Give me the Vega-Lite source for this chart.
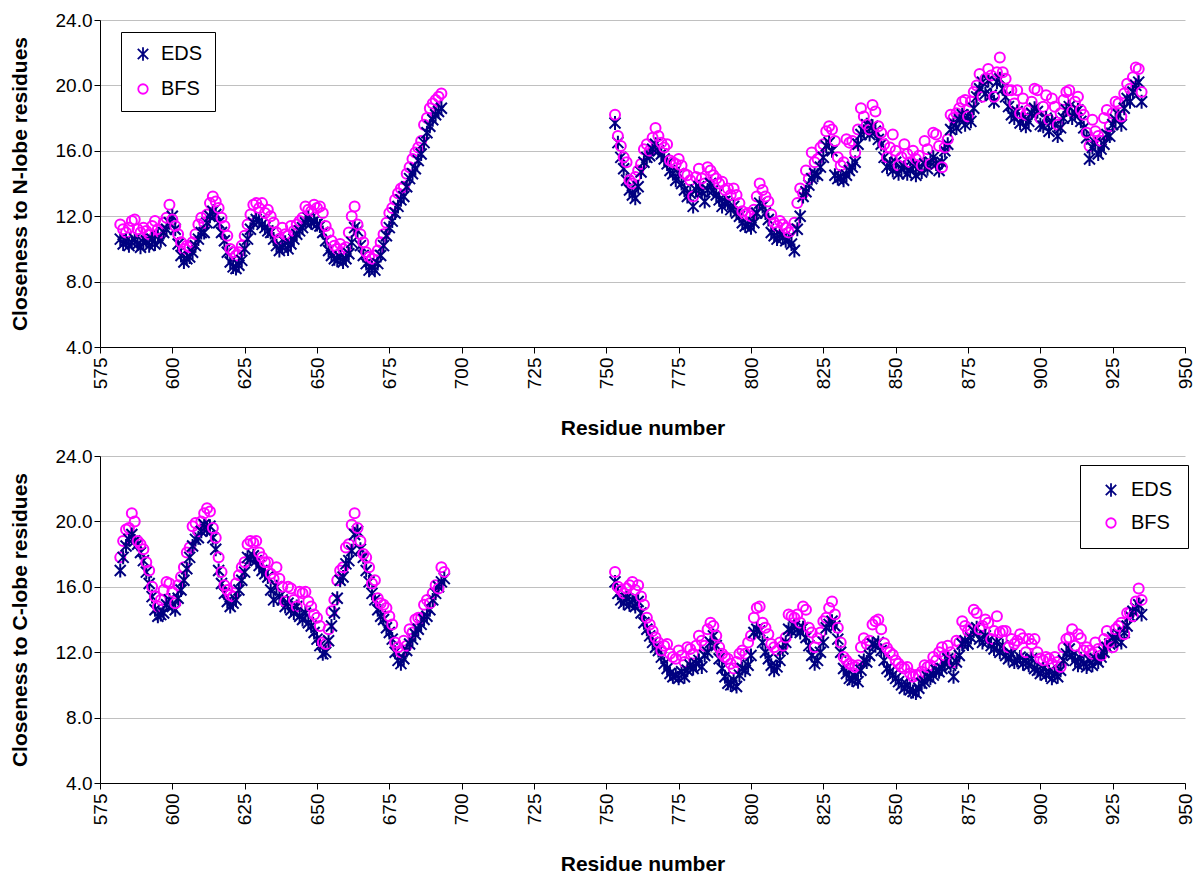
{
"$schema": "https://vega.github.io/schema/vega-lite/v6.json",
"background": "white",
"padding": {"left": 9, "top": 11, "right": 6, "bottom": 2},
"config": {
  "font": "Liberation Sans",
  "view": {"stroke": null},
  "axis": {"labelFont": "Liberation Sans", "labelFontSize": 19, "labelColor": "black", "titleFont": "Liberation Sans", "titleFontSize": 21, "titleFontWeight": "bold", "titleColor": "black", "domainColor": "black", "domainWidth": 1, "tickColor": "black", "tickSize": 6, "gridColor": "#c0c0c0", "gridWidth": 1}
},
"datasets": {
"n": [
{"r":582,"EDS":10.6,"BFS":11.5},{"r":583,"EDS":10.3,"BFS":11.2},{"r":584,"EDS":10.5,"BFS":11.0},{"r":585,"EDS":10.2,"BFS":11.3},{"r":586,"EDS":10.4,"BFS":11.7},{"r":587,"EDS":10.6,"BFS":11.8},{"r":588,"EDS":10.3,"BFS":11.2},{"r":589,"EDS":10.1,"BFS":11.0},{"r":590,"EDS":10.4,"BFS":11.3},{"r":591,"EDS":10.5,"BFS":11.1},{"r":592,"EDS":10.2,"BFS":10.9},{"r":593,"EDS":10.6,"BFS":11.4},{"r":594,"EDS":10.3,"BFS":11.7},{"r":595,"EDS":10.8,"BFS":11.2},{"r":596,"EDS":10.5,"BFS":11.0},{"r":597,"EDS":11.0,"BFS":11.6},{"r":598,"EDS":11.2,"BFS":11.9},{"r":599,"EDS":11.6,"BFS":12.7},{"r":600,"EDS":12.0,"BFS":11.8},
{"r":601,"EDS":11.2,"BFS":11.4},{"r":602,"EDS":10.3,"BFS":10.9},{"r":603,"EDS":9.6,"BFS":10.4},{"r":604,"EDS":9.2,"BFS":10.0},{"r":605,"EDS":9.4,"BFS":10.2},{"r":606,"EDS":9.5,"BFS":10.1},{"r":607,"EDS":9.8,"BFS":10.4},{"r":608,"EDS":10.2,"BFS":10.9},{"r":609,"EDS":10.6,"BFS":11.5},{"r":610,"EDS":11.0,"BFS":11.9},{"r":611,"EDS":11.0,"BFS":11.6},{"r":612,"EDS":11.6,"BFS":12.1},{"r":613,"EDS":12.0,"BFS":12.8},{"r":614,"EDS":12.3,"BFS":13.2},{"r":615,"EDS":12.1,"BFS":12.9},{"r":616,"EDS":11.6,"BFS":12.5},{"r":617,"EDS":11.0,"BFS":11.9},{"r":618,"EDS":10.5,"BFS":11.4},{"r":619,"EDS":9.8,"BFS":10.8},{"r":620,"EDS":9.2,"BFS":10.0},
{"r":621,"EDS":8.9,"BFS":9.8},{"r":622,"EDS":8.8,"BFS":9.6},{"r":623,"EDS":9.0,"BFS":9.8},{"r":624,"EDS":9.3,"BFS":10.2},{"r":625,"EDS":10.0,"BFS":10.8},{"r":626,"EDS":10.6,"BFS":11.5},{"r":627,"EDS":11.2,"BFS":12.1},{"r":628,"EDS":11.6,"BFS":12.7},{"r":629,"EDS":11.8,"BFS":12.8},{"r":630,"EDS":11.7,"BFS":12.5},{"r":631,"EDS":11.5,"BFS":12.8},{"r":632,"EDS":11.3,"BFS":12.2},{"r":633,"EDS":11.1,"BFS":12.4},{"r":634,"EDS":11.0,"BFS":12.0},{"r":635,"EDS":10.6,"BFS":11.6},{"r":636,"EDS":10.2,"BFS":11.0},{"r":637,"EDS":9.9,"BFS":10.6},{"r":638,"EDS":10.1,"BFS":11.3},{"r":639,"EDS":10.4,"BFS":10.9},{"r":640,"EDS":10.0,"BFS":10.8},
{"r":641,"EDS":10.3,"BFS":11.4},{"r":642,"EDS":10.6,"BFS":11.1},{"r":643,"EDS":10.9,"BFS":11.5},{"r":644,"EDS":11.1,"BFS":11.7},{"r":645,"EDS":11.3,"BFS":11.9},{"r":646,"EDS":11.6,"BFS":12.6},{"r":647,"EDS":11.9,"BFS":12.4},{"r":648,"EDS":11.6,"BFS":12.3},{"r":649,"EDS":11.7,"BFS":12.7},{"r":650,"EDS":11.5,"BFS":12.5},{"r":651,"EDS":11.4,"BFS":12.6},{"r":652,"EDS":11.0,"BFS":12.2},{"r":653,"EDS":10.5,"BFS":11.4},{"r":654,"EDS":9.9,"BFS":11.0},{"r":655,"EDS":9.6,"BFS":10.5},{"r":656,"EDS":9.4,"BFS":10.2},{"r":657,"EDS":9.3,"BFS":10.0},{"r":658,"EDS":9.5,"BFS":10.3},{"r":659,"EDS":9.2,"BFS":10.0},{"r":660,"EDS":9.4,"BFS":10.1},
{"r":661,"EDS":9.7,"BFS":11.0},{"r":662,"EDS":10.4,"BFS":12.0},{"r":663,"EDS":11.3,"BFS":12.6},{"r":664,"EDS":11.1,"BFS":11.5},{"r":665,"EDS":10.2,"BFS":10.9},{"r":666,"EDS":9.6,"BFS":10.4},{"r":667,"EDS":9.1,"BFS":9.8},{"r":668,"EDS":8.7,"BFS":9.5},{"r":669,"EDS":8.9,"BFS":9.4},{"r":670,"EDS":8.7,"BFS":9.6},{"r":671,"EDS":9.1,"BFS":9.9},{"r":672,"EDS":9.6,"BFS":10.4},{"r":673,"EDS":10.2,"BFS":10.9},{"r":674,"EDS":10.8,"BFS":11.6},{"r":675,"EDS":11.3,"BFS":12.2},{"r":676,"EDS":11.7,"BFS":12.5},{"r":677,"EDS":12.2,"BFS":13.0},{"r":678,"EDS":12.6,"BFS":13.4},{"r":679,"EDS":13.0,"BFS":13.7},{"r":680,"EDS":13.2,"BFS":13.8},
{"r":681,"EDS":13.8,"BFS":14.6},{"r":682,"EDS":14.3,"BFS":15.0},{"r":683,"EDS":14.6,"BFS":15.5},{"r":684,"EDS":14.9,"BFS":15.9},{"r":685,"EDS":15.4,"BFS":16.2},{"r":686,"EDS":15.8,"BFS":16.6},{"r":687,"EDS":16.5,"BFS":17.6},{"r":688,"EDS":17.1,"BFS":18.0},{"r":689,"EDS":17.5,"BFS":18.6},{"r":690,"EDS":17.9,"BFS":18.9},{"r":691,"EDS":18.2,"BFS":19.1},{"r":692,"EDS":18.4,"BFS":19.3},{"r":693,"EDS":18.6,"BFS":19.5},
{"r":753,"EDS":17.7,"BFS":18.2},{"r":754,"EDS":16.5,"BFS":16.9},{"r":755,"EDS":15.6,"BFS":16.3},{"r":756,"EDS":14.9,"BFS":15.6},{"r":757,"EDS":14.2,"BFS":15.3},{"r":758,"EDS":13.6,"BFS":14.2},{"r":759,"EDS":13.3,"BFS":14.0},{"r":760,"EDS":13.1,"BFS":14.4},
{"r":761,"EDS":13.8,"BFS":14.8},{"r":762,"EDS":14.7,"BFS":15.2},{"r":763,"EDS":15.3,"BFS":16.1},{"r":764,"EDS":15.6,"BFS":16.4},{"r":765,"EDS":15.7,"BFS":16.0},{"r":766,"EDS":16.1,"BFS":16.8},{"r":767,"EDS":16.4,"BFS":17.4},{"r":768,"EDS":16.0,"BFS":16.9},{"r":769,"EDS":15.8,"BFS":16.5},{"r":770,"EDS":15.5,"BFS":16.2},{"r":771,"EDS":15.2,"BFS":16.4},{"r":772,"EDS":14.8,"BFS":15.4},{"r":773,"EDS":14.6,"BFS":15.3},{"r":774,"EDS":14.2,"BFS":15.2},{"r":775,"EDS":14.6,"BFS":15.5},{"r":776,"EDS":14.0,"BFS":15.1},{"r":777,"EDS":13.6,"BFS":14.6},{"r":778,"EDS":13.2,"BFS":14.5},{"r":779,"EDS":13.4,"BFS":14.2},{"r":780,"EDS":12.6,"BFS":13.2},
{"r":781,"EDS":13.6,"BFS":14.4},{"r":782,"EDS":13.8,"BFS":14.9},{"r":783,"EDS":13.5,"BFS":14.3},{"r":784,"EDS":12.9,"BFS":14.0},{"r":785,"EDS":13.6,"BFS":15.0},{"r":786,"EDS":14.0,"BFS":14.8},{"r":787,"EDS":13.6,"BFS":14.5},{"r":788,"EDS":13.3,"BFS":14.3},{"r":789,"EDS":13.0,"BFS":14.0},{"r":790,"EDS":12.6,"BFS":14.1},{"r":791,"EDS":12.9,"BFS":13.6},{"r":792,"EDS":12.8,"BFS":13.7},{"r":793,"EDS":12.4,"BFS":13.3},{"r":794,"EDS":12.6,"BFS":13.7},{"r":795,"EDS":12.2,"BFS":13.3},{"r":796,"EDS":12.0,"BFS":12.8},{"r":797,"EDS":11.6,"BFS":12.3},{"r":798,"EDS":11.4,"BFS":12.1},{"r":799,"EDS":11.5,"BFS":12.2},{"r":800,"EDS":11.3,"BFS":12.0},
{"r":801,"EDS":11.6,"BFS":12.4},{"r":802,"EDS":12.2,"BFS":13.2},{"r":803,"EDS":12.8,"BFS":14.0},{"r":804,"EDS":12.6,"BFS":13.6},{"r":805,"EDS":12.2,"BFS":13.2},{"r":806,"EDS":11.8,"BFS":12.9},{"r":807,"EDS":11.0,"BFS":12.1},{"r":808,"EDS":10.8,"BFS":11.6},{"r":809,"EDS":10.6,"BFS":11.4},{"r":810,"EDS":10.9,"BFS":11.7},
{"r":811,"EDS":10.7,"BFS":11.5},{"r":812,"EDS":10.5,"BFS":11.3},{"r":813,"EDS":10.6,"BFS":11.0},{"r":814,"EDS":10.3,"BFS":11.2},{"r":815,"EDS":9.9,"BFS":11.6},{"r":816,"EDS":11.2,"BFS":12.8},{"r":817,"EDS":12.0,"BFS":13.7},{"r":818,"EDS":13.2,"BFS":13.4},{"r":819,"EDS":13.5,"BFS":14.8},{"r":820,"EDS":13.9,"BFS":14.3},
{"r":821,"EDS":14.3,"BFS":15.9},{"r":822,"EDS":14.6,"BFS":15.3},{"r":823,"EDS":14.5,"BFS":15.5},{"r":824,"EDS":15.0,"BFS":16.2},{"r":825,"EDS":15.6,"BFS":16.4},{"r":826,"EDS":16.3,"BFS":17.2},{"r":827,"EDS":16.5,"BFS":17.5},{"r":828,"EDS":16.0,"BFS":17.3},{"r":829,"EDS":14.5,"BFS":16.6},{"r":830,"EDS":14.3,"BFS":15.6},{"r":831,"EDS":14.4,"BFS":15.1},{"r":832,"EDS":14.2,"BFS":15.3},{"r":833,"EDS":14.5,"BFS":16.7},{"r":834,"EDS":14.8,"BFS":16.5},{"r":835,"EDS":15.0,"BFS":16.6},{"r":836,"EDS":15.3,"BFS":15.9},{"r":837,"EDS":16.4,"BFS":17.3},{"r":838,"EDS":17.0,"BFS":18.6},{"r":839,"EDS":17.2,"BFS":18.1},{"r":840,"EDS":17.6,"BFS":17.6},
{"r":841,"EDS":17.0,"BFS":17.3},{"r":842,"EDS":17.5,"BFS":18.8},{"r":843,"EDS":17.2,"BFS":18.4},{"r":844,"EDS":16.7,"BFS":17.5},{"r":845,"EDS":16.4,"BFS":17.1},{"r":846,"EDS":15.6,"BFS":16.4},{"r":847,"EDS":15.0,"BFS":15.6},{"r":848,"EDS":15.2,"BFS":16.2},{"r":849,"EDS":14.8,"BFS":17.0},{"r":850,"EDS":15.3,"BFS":16.0},{"r":851,"EDS":14.6,"BFS":15.1},{"r":852,"EDS":14.9,"BFS":15.6},{"r":853,"EDS":15.0,"BFS":16.4},{"r":854,"EDS":14.6,"BFS":15.8},{"r":855,"EDS":14.8,"BFS":15.3},{"r":856,"EDS":15.1,"BFS":16.0},{"r":857,"EDS":14.5,"BFS":15.5},{"r":858,"EDS":15.0,"BFS":15.7},{"r":859,"EDS":14.7,"BFS":15.1},{"r":860,"EDS":15.2,"BFS":16.6},
{"r":861,"EDS":14.9,"BFS":16.1},{"r":862,"EDS":15.3,"BFS":15.2},{"r":863,"EDS":15.6,"BFS":17.1},{"r":864,"EDS":15.2,"BFS":17.0},{"r":865,"EDS":14.8,"BFS":16.3},{"r":866,"EDS":15.3,"BFS":15.0},{"r":867,"EDS":16.0,"BFS":16.2},{"r":868,"EDS":16.4,"BFS":16.7},{"r":869,"EDS":17.3,"BFS":18.2},{"r":870,"EDS":17.7,"BFS":18.0},{"r":871,"EDS":17.4,"BFS":18.3},{"r":872,"EDS":17.9,"BFS":18.6},{"r":873,"EDS":18.2,"BFS":19.0},{"r":874,"EDS":17.6,"BFS":19.1},{"r":875,"EDS":18.1,"BFS":18.1},{"r":876,"EDS":17.8,"BFS":19.0},{"r":877,"EDS":18.6,"BFS":19.6},{"r":878,"EDS":19.3,"BFS":20.0},{"r":879,"EDS":19.8,"BFS":20.7},{"r":880,"EDS":20.2,"BFS":19.3},
{"r":881,"EDS":19.5,"BFS":20.4},{"r":882,"EDS":20.3,"BFS":21.0},{"r":883,"EDS":19.4,"BFS":20.6},{"r":884,"EDS":19.0,"BFS":19.3},{"r":885,"EDS":20.2,"BFS":20.8},{"r":886,"EDS":20.4,"BFS":21.7},{"r":887,"EDS":19.8,"BFS":20.8},{"r":888,"EDS":19.3,"BFS":20.4},{"r":889,"EDS":18.7,"BFS":19.7},{"r":890,"EDS":18.2,"BFS":19.7},{"r":891,"EDS":18.0,"BFS":18.9},{"r":892,"EDS":18.4,"BFS":19.7},{"r":893,"EDS":17.7,"BFS":18.3},{"r":894,"EDS":18.0,"BFS":19.2},{"r":895,"EDS":17.5,"BFS":18.2},{"r":896,"EDS":17.8,"BFS":18.5},{"r":897,"EDS":18.3,"BFS":19.0},{"r":898,"EDS":18.6,"BFS":19.8},{"r":899,"EDS":18.4,"BFS":19.7},{"r":900,"EDS":17.6,"BFS":18.0},
{"r":901,"EDS":17.5,"BFS":18.7},{"r":902,"EDS":18.0,"BFS":19.4},{"r":903,"EDS":17.2,"BFS":17.9},{"r":904,"EDS":17.8,"BFS":19.2},{"r":905,"EDS":17.6,"BFS":18.7},{"r":906,"EDS":16.9,"BFS":17.6},{"r":907,"EDS":17.4,"BFS":18.3},{"r":908,"EDS":18.0,"BFS":19.1},{"r":909,"EDS":18.5,"BFS":19.6},{"r":910,"EDS":18.7,"BFS":19.7},{"r":911,"EDS":18.0,"BFS":18.4},{"r":912,"EDS":18.3,"BFS":19.0},{"r":913,"EDS":18.5,"BFS":19.3},{"r":914,"EDS":17.8,"BFS":18.5},{"r":915,"EDS":17.4,"BFS":18.2},{"r":916,"EDS":16.8,"BFS":17.1},{"r":917,"EDS":15.5,"BFS":16.3},{"r":918,"EDS":16.2,"BFS":17.9},{"r":919,"EDS":16.5,"BFS":17.2},{"r":920,"EDS":15.8,"BFS":16.9},
{"r":921,"EDS":16.1,"BFS":16.6},{"r":922,"EDS":16.4,"BFS":18.0},{"r":923,"EDS":17.0,"BFS":18.5},{"r":924,"EDS":16.9,"BFS":17.5},{"r":925,"EDS":17.6,"BFS":18.3},{"r":926,"EDS":17.9,"BFS":19.0},{"r":927,"EDS":18.2,"BFS":18.9},{"r":928,"EDS":17.6,"BFS":18.1},{"r":929,"EDS":18.6,"BFS":19.5},{"r":930,"EDS":19.2,"BFS":20.1},{"r":931,"EDS":19.0,"BFS":19.8},{"r":932,"EDS":19.6,"BFS":20.5},{"r":933,"EDS":20.0,"BFS":21.1},{"r":934,"EDS":20.2,"BFS":21.0},{"r":935,"EDS":19.0,"BFS":19.6}
],
"c": [
{"r":582,"EDS":17.0,"BFS":17.8},{"r":583,"EDS":17.8,"BFS":18.8},{"r":584,"EDS":18.5,"BFS":19.5},{"r":585,"EDS":18.9,"BFS":19.6},{"r":586,"EDS":19.2,"BFS":20.5},{"r":587,"EDS":18.8,"BFS":20.0},{"r":588,"EDS":18.6,"BFS":18.8},{"r":589,"EDS":18.1,"BFS":18.6},{"r":590,"EDS":17.6,"BFS":18.3},{"r":591,"EDS":16.9,"BFS":17.5},{"r":592,"EDS":16.2,"BFS":17.0},{"r":593,"EDS":15.4,"BFS":16.0},{"r":594,"EDS":14.6,"BFS":15.4},{"r":595,"EDS":14.2,"BFS":14.8},{"r":596,"EDS":14.3,"BFS":15.2},{"r":597,"EDS":14.4,"BFS":15.8},{"r":598,"EDS":14.9,"BFS":16.3},{"r":599,"EDS":15.2,"BFS":16.2},{"r":600,"EDS":14.8,"BFS":15.7},
{"r":601,"EDS":14.6,"BFS":15.0},{"r":602,"EDS":15.3,"BFS":16.1},{"r":603,"EDS":15.8,"BFS":16.6},{"r":604,"EDS":16.4,"BFS":17.2},{"r":605,"EDS":17.1,"BFS":18.1},{"r":606,"EDS":17.8,"BFS":18.4},{"r":607,"EDS":18.5,"BFS":19.7},{"r":608,"EDS":18.9,"BFS":19.9},{"r":609,"EDS":19.0,"BFS":19.4},{"r":610,"EDS":19.4,"BFS":20.0},{"r":611,"EDS":19.8,"BFS":20.5},{"r":612,"EDS":19.5,"BFS":20.8},{"r":613,"EDS":19.7,"BFS":20.6},{"r":614,"EDS":19.0,"BFS":19.6},{"r":615,"EDS":18.3,"BFS":19.0},{"r":616,"EDS":17.0,"BFS":17.8},{"r":617,"EDS":16.2,"BFS":16.9},{"r":618,"EDS":15.6,"BFS":16.1},{"r":619,"EDS":15.1,"BFS":15.8},{"r":620,"EDS":14.8,"BFS":15.5},
{"r":621,"EDS":15.0,"BFS":15.4},{"r":622,"EDS":15.2,"BFS":16.2},{"r":623,"EDS":15.8,"BFS":16.7},{"r":624,"EDS":16.4,"BFS":17.2},{"r":625,"EDS":16.9,"BFS":17.5},{"r":626,"EDS":17.8,"BFS":18.6},{"r":627,"EDS":17.7,"BFS":18.8},{"r":628,"EDS":17.9,"BFS":18.7},{"r":629,"EDS":17.6,"BFS":18.8},{"r":630,"EDS":17.3,"BFS":18.1},{"r":631,"EDS":17.0,"BFS":17.8},{"r":632,"EDS":16.8,"BFS":17.5},{"r":633,"EDS":16.6,"BFS":17.5},{"r":634,"EDS":15.8,"BFS":16.8},{"r":635,"EDS":15.2,"BFS":16.5},{"r":636,"EDS":16.0,"BFS":17.2},{"r":637,"EDS":15.4,"BFS":16.5},{"r":638,"EDS":15.2,"BFS":16.0},{"r":639,"EDS":14.8,"BFS":15.1},{"r":640,"EDS":15.0,"BFS":16.0},
{"r":641,"EDS":14.6,"BFS":15.9},{"r":642,"EDS":14.4,"BFS":15.2},{"r":643,"EDS":14.8,"BFS":14.8},{"r":644,"EDS":14.2,"BFS":15.7},{"r":645,"EDS":14.0,"BFS":15.6},{"r":646,"EDS":14.4,"BFS":15.7},{"r":647,"EDS":13.8,"BFS":15.1},{"r":648,"EDS":13.6,"BFS":14.8},{"r":649,"EDS":13.2,"BFS":14.3},{"r":650,"EDS":12.8,"BFS":14.1},{"r":651,"EDS":12.4,"BFS":13.6},{"r":652,"EDS":11.9,"BFS":12.6},{"r":653,"EDS":12.0,"BFS":12.5},{"r":654,"EDS":12.7,"BFS":13.4},{"r":655,"EDS":13.6,"BFS":14.5},{"r":656,"EDS":14.4,"BFS":15.2},{"r":657,"EDS":15.3,"BFS":16.4},{"r":658,"EDS":16.4,"BFS":17.0},{"r":659,"EDS":16.6,"BFS":17.2},{"r":660,"EDS":17.4,"BFS":18.4},
{"r":661,"EDS":17.6,"BFS":18.6},{"r":662,"EDS":18.2,"BFS":19.8},{"r":663,"EDS":19.2,"BFS":20.5},{"r":664,"EDS":19.4,"BFS":19.6},{"r":665,"EDS":18.3,"BFS":18.8},{"r":666,"EDS":17.8,"BFS":18.0},{"r":667,"EDS":17.0,"BFS":17.8},{"r":668,"EDS":16.3,"BFS":17.2},{"r":669,"EDS":15.6,"BFS":16.2},{"r":670,"EDS":15.2,"BFS":16.4},{"r":671,"EDS":14.6,"BFS":15.3},{"r":672,"EDS":14.2,"BFS":15.0},{"r":673,"EDS":14.0,"BFS":14.9},{"r":674,"EDS":13.5,"BFS":14.7},{"r":675,"EDS":13.2,"BFS":14.2},{"r":676,"EDS":12.8,"BFS":13.7},{"r":677,"EDS":12.0,"BFS":12.6},{"r":678,"EDS":11.5,"BFS":12.3},{"r":679,"EDS":11.3,"BFS":12.0},{"r":680,"EDS":11.6,"BFS":12.7},
{"r":681,"EDS":12.1,"BFS":12.4},{"r":682,"EDS":12.5,"BFS":13.4},{"r":683,"EDS":12.8,"BFS":13.2},{"r":684,"EDS":13.1,"BFS":14.0},{"r":685,"EDS":13.4,"BFS":14.1},{"r":686,"EDS":13.7,"BFS":14.1},{"r":687,"EDS":14.0,"BFS":14.9},{"r":688,"EDS":14.2,"BFS":15.2},{"r":689,"EDS":14.6,"BFS":15.0},{"r":690,"EDS":15.2,"BFS":15.6},{"r":691,"EDS":15.6,"BFS":16.1},{"r":692,"EDS":16.0,"BFS":15.9},{"r":693,"EDS":16.3,"BFS":17.2},{"r":694,"EDS":16.5,"BFS":16.9},
{"r":753,"EDS":16.3,"BFS":16.9},{"r":754,"EDS":15.6,"BFS":16.0},{"r":755,"EDS":15.2,"BFS":15.8},{"r":756,"EDS":15.0,"BFS":15.6},{"r":757,"EDS":15.3,"BFS":15.9},{"r":758,"EDS":14.9,"BFS":16.1},{"r":759,"EDS":15.2,"BFS":16.3},{"r":760,"EDS":14.8,"BFS":15.8},
{"r":761,"EDS":15.1,"BFS":16.1},{"r":762,"EDS":14.4,"BFS":15.4},{"r":763,"EDS":13.8,"BFS":14.9},{"r":764,"EDS":13.4,"BFS":14.1},{"r":765,"EDS":13.0,"BFS":13.7},{"r":766,"EDS":12.6,"BFS":13.3},{"r":767,"EDS":12.3,"BFS":12.9},{"r":768,"EDS":12.1,"BFS":12.6},{"r":769,"EDS":11.7,"BFS":12.1},{"r":770,"EDS":11.3,"BFS":12.4},{"r":771,"EDS":11.0,"BFS":12.5},{"r":772,"EDS":10.7,"BFS":11.9},{"r":773,"EDS":10.5,"BFS":11.7},{"r":774,"EDS":10.6,"BFS":11.6},{"r":775,"EDS":10.4,"BFS":12.1},{"r":776,"EDS":10.8,"BFS":11.8},{"r":777,"EDS":10.5,"BFS":11.4},{"r":778,"EDS":10.9,"BFS":12.3},{"r":779,"EDS":11.2,"BFS":12.2},{"r":780,"EDS":11.0,"BFS":11.9},
{"r":781,"EDS":11.3,"BFS":12.4},{"r":782,"EDS":11.5,"BFS":13.0},{"r":783,"EDS":11.1,"BFS":12.7},{"r":784,"EDS":11.8,"BFS":12.4},{"r":785,"EDS":12.0,"BFS":13.4},{"r":786,"EDS":12.6,"BFS":13.8},{"r":787,"EDS":13.0,"BFS":13.6},{"r":788,"EDS":12.4,"BFS":13.0},{"r":789,"EDS":11.6,"BFS":12.3},{"r":790,"EDS":11.0,"BFS":11.9},{"r":791,"EDS":10.5,"BFS":11.7},{"r":792,"EDS":10.1,"BFS":11.6},{"r":793,"EDS":10.0,"BFS":11.3},{"r":794,"EDS":10.3,"BFS":11.0},{"r":795,"EDS":9.9,"BFS":11.4},{"r":796,"EDS":10.6,"BFS":11.9},{"r":797,"EDS":11.0,"BFS":12.1},{"r":798,"EDS":10.9,"BFS":11.9},{"r":799,"EDS":11.2,"BFS":12.6},{"r":800,"EDS":11.8,"BFS":13.0},
{"r":801,"EDS":13.2,"BFS":14.1},{"r":802,"EDS":13.4,"BFS":14.7},{"r":803,"EDS":13.3,"BFS":14.8},{"r":804,"EDS":12.6,"BFS":13.8},{"r":805,"EDS":12.0,"BFS":13.5},{"r":806,"EDS":11.6,"BFS":13.1},{"r":807,"EDS":11.2,"BFS":12.5},{"r":808,"EDS":10.9,"BFS":12.3},{"r":809,"EDS":11.1,"BFS":12.1},{"r":810,"EDS":11.5,"BFS":12.6},{"r":811,"EDS":12.2,"BFS":12.4},{"r":812,"EDS":12.6,"BFS":12.9},{"r":813,"EDS":13.4,"BFS":14.3},{"r":814,"EDS":13.3,"BFS":14.2},{"r":815,"EDS":13.6,"BFS":14.1},{"r":816,"EDS":13.4,"BFS":14.3},{"r":817,"EDS":13.2,"BFS":13.8},{"r":818,"EDS":13.5,"BFS":14.8},{"r":819,"EDS":12.9,"BFS":14.6},{"r":820,"EDS":12.4,"BFS":13.5},
{"r":821,"EDS":11.8,"BFS":13.2},{"r":822,"EDS":11.3,"BFS":12.3},{"r":823,"EDS":11.5,"BFS":12.85},{"r":824,"EDS":12.0,"BFS":13.2},{"r":825,"EDS":12.6,"BFS":13.9},{"r":826,"EDS":13.5,"BFS":14.1},{"r":827,"EDS":13.7,"BFS":14.7},{"r":828,"EDS":13.9,"BFS":15.1},{"r":829,"EDS":13.6,"BFS":14.3},{"r":830,"EDS":12.8,"BFS":13.5},{"r":831,"EDS":12.0,"BFS":12.6},{"r":832,"EDS":11.0,"BFS":11.7},{"r":833,"EDS":10.7,"BFS":11.5},{"r":834,"EDS":10.4,"BFS":11.3},{"r":835,"EDS":10.3,"BFS":11.2},{"r":836,"EDS":10.5,"BFS":11.1},{"r":837,"EDS":10.2,"BFS":11.2},{"r":838,"EDS":10.9,"BFS":12.3},{"r":839,"EDS":11.5,"BFS":12.85},{"r":840,"EDS":11.4,"BFS":12.5},
{"r":841,"EDS":11.8,"BFS":12.7},{"r":842,"EDS":12.5,"BFS":13.7},{"r":843,"EDS":12.4,"BFS":13.9},{"r":844,"EDS":12.6,"BFS":14.0},{"r":845,"EDS":12.1,"BFS":13.4},{"r":846,"EDS":11.5,"BFS":12.55},{"r":847,"EDS":11.0,"BFS":12.25},{"r":848,"EDS":10.8,"BFS":12.0},{"r":849,"EDS":10.6,"BFS":11.85},{"r":850,"EDS":10.4,"BFS":11.5},{"r":851,"EDS":10.2,"BFS":11.3},{"r":852,"EDS":10.0,"BFS":11.1},{"r":853,"EDS":9.8,"BFS":11.0},{"r":854,"EDS":10.0,"BFS":11.1},{"r":855,"EDS":9.7,"BFS":10.7},{"r":856,"EDS":9.6,"BFS":10.5},{"r":857,"EDS":9.5,"BFS":10.6},{"r":858,"EDS":9.8,"BFS":10.6},{"r":859,"EDS":10.1,"BFS":10.8},{"r":860,"EDS":10.2,"BFS":11.2},
{"r":861,"EDS":10.5,"BFS":11.1},{"r":862,"EDS":10.4,"BFS":11.2},{"r":863,"EDS":10.6,"BFS":11.7},{"r":864,"EDS":10.9,"BFS":11.5},{"r":865,"EDS":10.8,"BFS":12.0},{"r":866,"EDS":11.0,"BFS":12.3},{"r":867,"EDS":11.3,"BFS":11.8},{"r":868,"EDS":11.6,"BFS":12.4},{"r":869,"EDS":11.2,"BFS":12.0},{"r":870,"EDS":10.5,"BFS":11.4},{"r":871,"EDS":11.4,"BFS":12.7},{"r":872,"EDS":11.8,"BFS":12.6},{"r":873,"EDS":12.5,"BFS":13.9},{"r":874,"EDS":12.7,"BFS":13.6},{"r":875,"EDS":12.5,"BFS":13.3},{"r":876,"EDS":12.9,"BFS":13.4},{"r":877,"EDS":13.3,"BFS":14.6},{"r":878,"EDS":13.5,"BFS":14.4},{"r":879,"EDS":12.8,"BFS":13.4},{"r":880,"EDS":12.6,"BFS":13.6},
{"r":881,"EDS":13.0,"BFS":14.0},{"r":882,"EDS":12.7,"BFS":13.8},{"r":883,"EDS":12.4,"BFS":12.8},{"r":884,"EDS":12.2,"BFS":13.3},{"r":885,"EDS":12.6,"BFS":14.2},{"r":886,"EDS":12.0,"BFS":13.2},{"r":887,"EDS":12.4,"BFS":13.3},{"r":888,"EDS":11.8,"BFS":13.3},{"r":889,"EDS":11.6,"BFS":12.3},{"r":890,"EDS":11.9,"BFS":12.8},{"r":891,"EDS":11.4,"BFS":12.5},{"r":892,"EDS":11.5,"BFS":12.7},{"r":893,"EDS":11.7,"BFS":13.1},{"r":894,"EDS":11.3,"BFS":12.85},{"r":895,"EDS":11.5,"BFS":12.0},{"r":896,"EDS":11.2,"BFS":12.8},{"r":897,"EDS":11.6,"BFS":12.5},{"r":898,"EDS":11.0,"BFS":12.8},{"r":899,"EDS":10.9,"BFS":12.0},{"r":900,"EDS":10.7,"BFS":11.6},
{"r":901,"EDS":11.0,"BFS":11.5},{"r":902,"EDS":10.6,"BFS":11.7},{"r":903,"EDS":10.8,"BFS":11.6},{"r":904,"EDS":10.4,"BFS":11.3},{"r":905,"EDS":10.7,"BFS":11.7},{"r":906,"EDS":10.5,"BFS":11.4},{"r":907,"EDS":10.9,"BFS":11.1},{"r":908,"EDS":11.5,"BFS":12.3},{"r":909,"EDS":11.9,"BFS":12.8},{"r":910,"EDS":12.2,"BFS":12.9},{"r":911,"EDS":11.8,"BFS":13.4},{"r":912,"EDS":11.5,"BFS":12.4},{"r":913,"EDS":11.2,"BFS":13.1},{"r":914,"EDS":11.6,"BFS":12.85},{"r":915,"EDS":11.3,"BFS":12.1},{"r":916,"EDS":11.1,"BFS":12.3},{"r":917,"EDS":11.5,"BFS":12.1},{"r":918,"EDS":11.2,"BFS":11.9},{"r":919,"EDS":11.6,"BFS":12.6},{"r":920,"EDS":11.4,"BFS":12.2},
{"r":921,"EDS":11.7,"BFS":11.8},{"r":922,"EDS":12.0,"BFS":12.8},{"r":923,"EDS":12.3,"BFS":13.3},{"r":924,"EDS":12.5,"BFS":12.6},{"r":925,"EDS":12.9,"BFS":12.3},{"r":926,"EDS":12.7,"BFS":13.4},{"r":927,"EDS":13.1,"BFS":13.6},{"r":928,"EDS":12.6,"BFS":13.8},{"r":929,"EDS":13.2,"BFS":13.1},{"r":930,"EDS":13.6,"BFS":14.4},{"r":931,"EDS":14.2,"BFS":14.4},{"r":932,"EDS":14.5,"BFS":14.2},{"r":933,"EDS":14.7,"BFS":15.1},{"r":934,"EDS":14.9,"BFS":15.9},{"r":935,"EDS":14.3,"BFS":15.2}
]
},
"spacing": 8,
"resolve": {"legend": {"color": "independent", "shape": "independent"}, "scale": {"color": "independent", "shape": "independent"}},
"vconcat": [
{
  "width": 1085, "height": 327,
  "data": {"name": "n"},
  "transform": [{"fold": ["EDS", "BFS"], "as": ["series", "value"]}],
  "mark": {"type": "point", "filled": false, "strokeWidth": 2, "size": 100, "opacity": 1},
  "encoding": {
    "x": {"field": "r", "type": "quantitative", "scale": {"domain": [575, 950], "nice": false, "zero": false},
      "axis": {"values": [575,600,625,650,675,700,725,750,775,800,825,850,875,900,925,950], "labelAngle": -90, "grid": false, "title": "Residue number", "labelPadding": 4, "titlePadding": 29}},
    "y": {"field": "value", "type": "quantitative", "scale": {"domain": [4, 24], "nice": false, "zero": false},
      "axis": {"values": [4,8,12,16,20,24], "format": ".1f", "grid": true, "title": "Closeness to N-lobe residues", "titlePadding": 25}},
    "color": {"field": "series", "type": "nominal", "scale": {"domain": ["EDS", "BFS"], "range": ["#000080", "#FF00FF"]},
      "legend": {"title": null, "orient": "none", "legendX": 21, "legendY": 12, "fillColor": "white", "strokeColor": "black", "padding": 12, "labelFontSize": 20, "labelFont": "Liberation Sans", "labelColor": "black", "symbolSize": 90, "symbolStrokeWidth": 1.8, "rowPadding": 14, "labelOffset": 8}},
    "shape": {"field": "series", "type": "nominal", "scale": {"domain": ["EDS", "BFS"], "range": ["M-1.1,-1.1L1.1,1.1M-1.1,1.1L1.1,-1.1M0,-1.4L0,1.4", "circle"]},
      "legend": {"title": null, "orient": "none", "legendX": 21, "legendY": 12, "fillColor": "white", "strokeColor": "black", "padding": 12, "labelFontSize": 20, "labelFont": "Liberation Sans", "labelColor": "black", "symbolSize": 90, "symbolStrokeWidth": 1.8, "rowPadding": 14, "labelOffset": 8}}
  }
},
{
  "width": 1085, "height": 327,
  "data": {"name": "c"},
  "transform": [{"fold": ["EDS", "BFS"], "as": ["series", "value"]}],
  "mark": {"type": "point", "filled": false, "strokeWidth": 2, "size": 100, "opacity": 1},
  "encoding": {
    "x": {"field": "r", "type": "quantitative", "scale": {"domain": [575, 950], "nice": false, "zero": false},
      "axis": {"values": [575,600,625,650,675,700,725,750,775,800,825,850,875,900,925,950], "labelAngle": -90, "grid": false, "title": "Residue number", "labelPadding": 4, "titlePadding": 29}},
    "y": {"field": "value", "type": "quantitative", "scale": {"domain": [4, 24], "nice": false, "zero": false},
      "axis": {"values": [4,8,12,16,20,24], "format": ".1f", "grid": true, "title": "Closeness to C-lobe residues", "titlePadding": 25}},
    "color": {"field": "series", "type": "nominal", "scale": {"domain": ["EDS", "BFS"], "range": ["#000080", "#FF00FF"]},
      "legend": {"title": null, "orient": "none", "legendX": 980, "legendY": 9, "fillColor": "white", "strokeColor": "black", "padding": 15, "symbolOffset": 6, "labelFontSize": 20, "labelFont": "Liberation Sans", "labelColor": "black", "symbolSize": 90, "symbolStrokeWidth": 1.8, "rowPadding": 12, "labelOffset": 10}},
    "shape": {"field": "series", "type": "nominal", "scale": {"domain": ["EDS", "BFS"], "range": ["M-1.1,-1.1L1.1,1.1M-1.1,1.1L1.1,-1.1M0,-1.4L0,1.4", "circle"]},
      "legend": {"title": null, "orient": "none", "legendX": 980, "legendY": 9, "fillColor": "white", "strokeColor": "black", "padding": 15, "symbolOffset": 6, "labelFontSize": 20, "labelFont": "Liberation Sans", "labelColor": "black", "symbolSize": 90, "symbolStrokeWidth": 1.8, "rowPadding": 12, "labelOffset": 10}}
  }
}
]
}
